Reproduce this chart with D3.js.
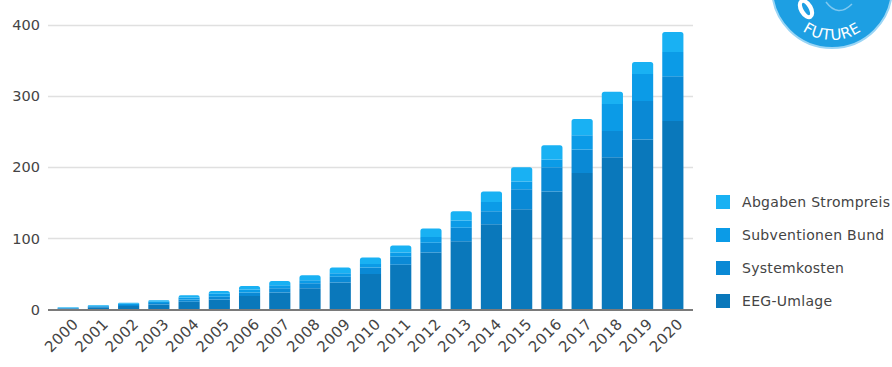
<!DOCTYPE html>
<html><head><meta charset="utf-8">
<script src="https://cdn.jsdelivr.net/npm/d3@7/dist/d3.min.js"></script>
<style>
html,body{margin:0;padding:0;background:#fff;}
svg{display:block;}
text{font-family:"DejaVu Sans",Verdana,sans-serif;}
</style></head>
<body><svg id="chart" width="892" height="367"></svg>
<script>
const years = ["2000","2001","2002","2003","2004","2005","2006","2007","2008","2009","2010","2011","2012","2013","2014","2015","2016","2017","2018","2019","2020"];
const seriesNames = ["EEG-Umlage","Systemkosten","Subventionen Bund","Abgaben Strompreis"];
const eegUmlage      = [1.5, 3, 5, 7, 11, 14, 19, 24, 30, 38, 50, 63, 80, 96, 120, 141, 166, 192, 214, 239, 265];
const systemkosten   = [0.5, 1, 1.5, 2, 3, 4, 5, 6, 7, 8, 9, 11, 14, 19, 18, 28, 34, 33, 37, 54, 63];
const subventionen   = [0.5, 1, 1.5, 2, 3, 4, 4, 4, 4, 5, 5, 6, 8, 10, 13, 11, 11, 20, 38, 38, 34];
const abgaben        = [0.5, 1, 1.5, 2, 3, 4, 5, 6, 7, 8, 9, 10, 12, 13, 15, 20, 20, 23, 17, 17, 28];
const yTicks = [0, 100, 200, 300, 400];
const colors = ["#0a78bb", "#0a89d5", "#0b9be7", "#19b1f3"];

const svg = d3.select("#chart");
const x = d3.scaleBand().domain(years).range([47, 694]).paddingInner(0.3).paddingOuter(0.35);
const y = d3.scaleLinear().domain([0, 400]).range([309.5, 25]);

// gridlines
svg.append("g").selectAll("line").data(yTicks.filter(d => d > 0)).join("line")
  .attr("x1", 48).attr("x2", 693)
  .attr("y1", d => Math.round(y(d)) + 0.5).attr("y2", d => Math.round(y(d)) + 0.5)
  .attr("stroke", "#e0e0e0").attr("stroke-width", 1.3);

// y labels
svg.append("g").selectAll("text").data(yTicks).join("text")
  .attr("x", 40).attr("y", d => y(d)).attr("dy", "0.36em")
  .attr("text-anchor", "end").attr("font-size", 14.5).attr("fill", "#444")
  .text(d => d);

// stacked data
const table = years.map((yr, i) => ({year: yr, "EEG-Umlage": eegUmlage[i], "Systemkosten": systemkosten[i], "Subventionen Bund": subventionen[i], "Abgaben Strompreis": abgaben[i]}));
const stack = d3.stack().keys(seriesNames)(table);

function segPath(x0, w, yTop, yBot, rounded) {
  const r = rounded ? Math.min(2.5, (yBot - yTop)) : 0;
  return `M${x0},${yBot}V${yTop + r}Q${x0},${yTop} ${x0 + r},${yTop}H${x0 + w - r}Q${x0 + w},${yTop} ${x0 + w},${yTop + r}V${yBot}Z`;
}

stack.forEach((layer, li) => {
  svg.append("g").attr("fill", colors[li]).selectAll("path").data(layer).join("path")
    .attr("d", d => segPath(x(d.data.year), x.bandwidth(), y(d[1]), y(d[0]), li === stack.length - 1));
});

// baseline
svg.append("line").attr("x1", 48).attr("x2", 693).attr("y1", y(0) + 0.5).attr("y2", y(0) + 0.5)
  .attr("stroke", "#7a7a7a").attr("stroke-width", 1.8);

// x labels
svg.append("g").selectAll("text").data(years).join("text")
  .attr("transform", d => `translate(${x(d) + x.bandwidth() / 2 + 11},${325}) rotate(-45)`)
  .attr("text-anchor", "end").attr("font-size", 15).attr("letter-spacing", 0.4).attr("fill", "#444")
  .text(d => d);

// legend
const legendItems = ["Abgaben Strompreis", "Subventionen Bund", "Systemkosten", "EEG-Umlage"];
const legendColors = [colors[3], colors[2], colors[1], colors[0]];
const lg = svg.append("g").selectAll("g").data(legendItems).join("g")
  .attr("transform", (d, i) => `translate(716,${202 + i * 33})`);
lg.append("rect").attr("x", 0).attr("y", -7).attr("width", 14).attr("height", 14)
  .attr("fill", (d, i) => legendColors[i]);
lg.append("text").attr("x", 26).attr("y", 0).attr("dy", "0.35em")
  .attr("font-size", 14).attr("letter-spacing", 0.3).attr("fill", "#444").text(d => d);

// logo
const logo = svg.append("g");
logo.append("circle").attr("cx", 832).attr("cy", -12).attr("r", 60)
  .attr("fill", "#1d9fe3").attr("stroke", "#9ad5f5").attr("stroke-width", 2);
logo.append("ellipse").attr("cx", 806).attr("cy", 9).attr("rx", 7).attr("ry", 11)
  .attr("transform", "rotate(-30,806,9)").attr("fill", "#fff");
logo.append("ellipse").attr("cx", 806).attr("cy", 9).attr("rx", 2.5).attr("ry", 7)
  .attr("transform", "rotate(-30,806,9)").attr("fill", "#1d9fe3");
logo.append("path").attr("d", "M826,2 Q838,18 852,4").attr("fill", "none").attr("stroke", "#7fc8f0").attr("stroke-width", 1.5);
logo.append("path").attr("id", "arcp").attr("d", "M787,14 A52,52 0 0,0 877,14").attr("fill", "none");
logo.append("text").attr("font-size", 15).attr("fill", "#fff").attr("letter-spacing", 0.5)
  .append("textPath").attr("href", "#arcp").attr("startOffset", "50%").attr("text-anchor", "middle")
  .text("FUTURE");
</script></body></html>
